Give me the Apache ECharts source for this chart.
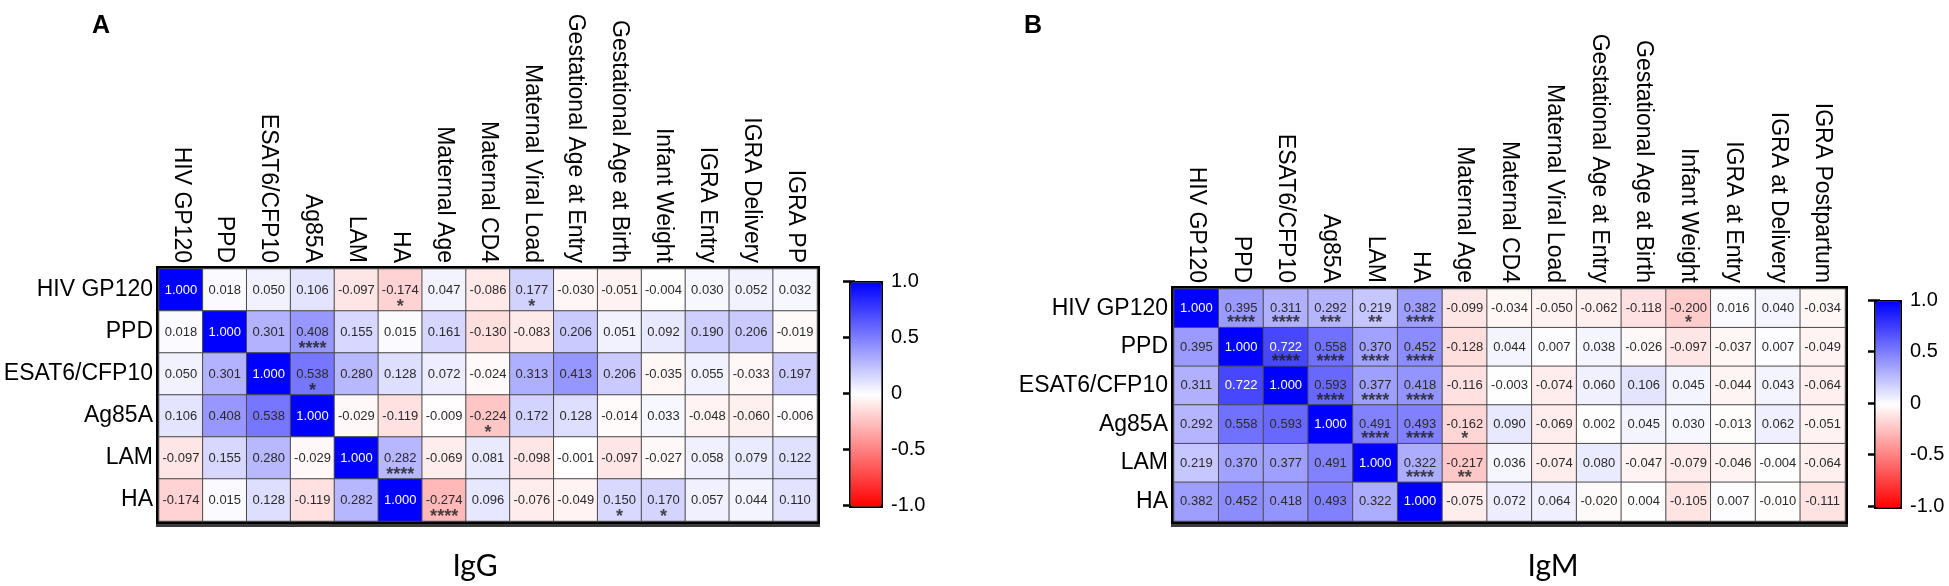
<!DOCTYPE html>
<html><head><meta charset="utf-8">
<script src="https://cdn.jsdelivr.net/npm/echarts/dist/echarts.min.js"></script>
<style>html,body{margin:0;padding:0;background:#fff}#c{width:1949px;height:586px}</style>
</head><body><div id="c"></div>
<script>
const rowsA = ['HIV GP120','PPD','ESAT6/CFP10','Ag85A','LAM','HA'];
const colsA = ['HIV GP120','PPD','ESAT6/CFP10','Ag85A','LAM','HA','Maternal Age','Maternal CD4','Maternal Viral Load','Gestational Age at Entry','Gestational Age at Birth','Infant Weight','IGRA Entry','IGRA Delivery','IGRA PP'];
const valuesA = [
  [1.000, 0.018, 0.050, 0.106, -0.097, -0.174, 0.047, -0.086, 0.177, -0.030, -0.051, -0.004, 0.030, 0.052, 0.032],
  [0.018, 1.000, 0.301, 0.408, 0.155, 0.015, 0.161, -0.130, -0.083, 0.206, 0.051, 0.092, 0.190, 0.206, -0.019],
  [0.050, 0.301, 1.000, 0.538, 0.280, 0.128, 0.072, -0.024, 0.313, 0.413, 0.206, -0.035, 0.055, -0.033, 0.197],
  [0.106, 0.408, 0.538, 1.000, -0.029, -0.119, -0.009, -0.224, 0.172, 0.128, -0.014, 0.033, -0.048, -0.060, -0.006],
  [-0.097, 0.155, 0.280, -0.029, 1.000, 0.282, -0.069, 0.081, -0.098, -0.001, -0.097, -0.027, 0.058, 0.079, 0.122],
  [-0.174, 0.015, 0.128, -0.119, 0.282, 1.000, -0.274, 0.096, -0.076, -0.049, 0.150, 0.170, 0.057, 0.044, 0.110]
];
const starsA = [[0,5,'*'],[0,8,'*'],[1,3,'****'],[2,3,'*'],[3,7,'*'],[4,5,'****'],[5,6,'****'],[5,10,'*'],[5,11,'*']];

const rowsB = ['HIV GP120','PPD','ESAT6/CFP10','Ag85A','LAM','HA'];
const colsB = ['HIV GP120','PPD','ESAT6/CFP10','Ag85A','LAM','HA','Maternal Age','Maternal CD4','Maternal Viral Load','Gestational Age at Entry','Gestational Age at Birth','Infant Weight','IGRA at Entry','IGRA at Delivery','IGRA Postpartum'];
const valuesB = [
  [1.000, 0.395, 0.311, 0.292, 0.219, 0.382, -0.099, -0.034, -0.050, -0.062, -0.118, -0.200, 0.016, 0.040, -0.034],
  [0.395, 1.000, 0.722, 0.558, 0.370, 0.452, -0.128, 0.044, 0.007, 0.038, -0.026, -0.097, -0.037, 0.007, -0.049],
  [0.311, 0.722, 1.000, 0.593, 0.377, 0.418, -0.116, -0.003, -0.074, 0.060, 0.106, 0.045, -0.044, 0.043, -0.064],
  [0.292, 0.558, 0.593, 1.000, 0.491, 0.493, -0.162, 0.090, -0.069, 0.002, 0.045, 0.030, -0.013, 0.062, -0.051],
  [0.219, 0.370, 0.377, 0.491, 1.000, 0.322, -0.217, 0.036, -0.074, 0.080, -0.047, -0.079, -0.046, -0.004, -0.064],
  [0.382, 0.452, 0.418, 0.493, 0.322, 1.000, -0.075, 0.072, 0.064, -0.020, 0.004, -0.105, 0.007, -0.010, -0.111]
];
const starsB = [[0,1,'****'],[0,2,'****'],[0,3,'***'],[0,4,'**'],[0,5,'****'],[0,11,'*'],
  [1,2,'****'],[1,3,'****'],[1,4,'****'],[1,5,'****'],
  [2,3,'****'],[2,4,'****'],[2,5,'****'],
  [3,4,'****'],[3,5,'****'],[3,6,'*'],
  [4,5,'****'],[4,6,'**']];
const colorbarTicks = [-1, -0.5, 0, 0.5, 1];

const FONT = "'Liberation Sans', Arial, sans-serif";

function cells(values) {
  const out = [];
  values.forEach((row, r) => row.forEach((v, c) => {
    out.push({ value: [c, r, v], label: { color: v >= 0.65 ? '#ffffff' : '#2a2a2a' } });
  }));
  return out;
}
function starData(stars) {
  return stars.map(s => [s[1], s[0], s[2]]);
}

const G = [
  { left: 159, top: 269, width: 658, height: 252 },
  { left: 1174, top: 289, width: 671, height: 232 }
];
const CB = [
  { left: 849, top: 281, width: 31, height: 224 },
  { left: 1874, top: 300, width: 25, height: 206 }
];

function gridStyle(g) {
  return Object.assign({ show: true, backgroundColor: '#fff', borderColor: '#000', borderWidth: 6,
    shadowColor: '#3c3c3c', shadowOffsetY: 3, shadowBlur: 0, containLabel: false }, g);
}

const option = {
  animation: false,
  backgroundColor: '#fff',
  textStyle: { fontFamily: FONT },
  title: [
    { text: 'A', left: 87, top: 9, textStyle: { fontSize: 25, fontWeight: 'bold', color: '#000', fontFamily: FONT } },
    { text: 'B', left: 1019, top: 9, textStyle: { fontSize: 25, fontWeight: 'bold', color: '#000', fontFamily: FONT } },
    { text: 'IgG', left: 470, top: 546, textAlign: 'center', textStyle: { fontSize: 30, fontWeight: 'normal', color: '#000', fontFamily: 'Lato, sans-serif' } },
    { text: 'IgM', left: 1548, top: 546, textAlign: 'center', textStyle: { fontSize: 30, fontWeight: 'normal', color: '#000', fontFamily: 'Lato, sans-serif' } }
  ],
  grid: [gridStyle(G[0]), gridStyle(G[1]),
    Object.assign({ show: false }, CB[0]), Object.assign({ show: false }, CB[1])],
  xAxis: [
    { type: 'category', gridIndex: 0, position: 'top', data: colsA, axisLine: { show: false }, axisTick: { show: false },
      splitLine: { show: false }, axisLabel: { rotate: 90, fontSize: 23, color: '#000', margin: 6, interval: 0, fontFamily: FONT } },
    { type: 'category', gridIndex: 1, position: 'top', data: colsB, axisLine: { show: false }, axisTick: { show: false },
      splitLine: { show: false }, axisLabel: { rotate: 90, fontSize: 23, color: '#000', margin: 6, interval: 0, fontFamily: FONT } },
    { type: 'value', gridIndex: 2, show: false, min: 0, max: 1 },
    { type: 'value', gridIndex: 3, show: false, min: 0, max: 1 }
  ],
  yAxis: [
    { type: 'category', gridIndex: 0, inverse: true, data: rowsA, axisLine: { show: false }, axisTick: { show: false },
      axisLabel: { fontSize: 23, color: '#000', margin: 6, fontFamily: FONT } },
    { type: 'category', gridIndex: 1, inverse: true, data: rowsB, axisLine: { show: false }, axisTick: { show: false },
      axisLabel: { fontSize: 23, color: '#000', margin: 6, fontFamily: FONT } }
  ],
  visualMap: [
    { type: 'continuous', seriesIndex: 0, min: -1, max: 1, calculable: false, hoverLink: false,
      inRange: { color: ['#ff0000', '#ffffff', '#0000ff'] },
      left: CB[0].left, top: CB[0].top, itemWidth: CB[0].width, itemHeight: CB[0].height,
      padding: 0, borderColor: '#000', borderWidth: 3, text: null, showLabel: false },
    { type: 'continuous', seriesIndex: 2, min: -1, max: 1, calculable: false, hoverLink: false,
      inRange: { color: ['#ff0000', '#ffffff', '#0000ff'] },
      left: CB[1].left, top: CB[1].top, itemWidth: CB[1].width, itemHeight: CB[1].height,
      padding: 0, borderColor: '#000', borderWidth: 3, text: null, showLabel: false }
  ],
  series: [
    { type: 'heatmap', xAxisIndex: 0, yAxisIndex: 0, data: cells(valuesA),
      itemStyle: { borderColor: '#4a4a4a', borderWidth: 1 },
      label: { show: true, fontSize: 13, fontFamily: FONT, formatter: p => p.value[2].toFixed(3) },
      emphasis: { disabled: true } },
    { type: 'scatter', xAxisIndex: 0, yAxisIndex: 0, data: starData(starsA), symbolSize: 1,
      itemStyle: { color: 'rgba(0,0,0,0)' }, z: 5,
      label: { show: true, position: 'inside', offset: [0, 17], fontSize: 18, fontWeight: 'bold', color: '#1a1a1a', fontFamily: FONT,
        formatter: p => p.data[2] }, emphasis: { disabled: true } },
    { type: 'heatmap', xAxisIndex: 1, yAxisIndex: 1, data: cells(valuesB),
      itemStyle: { borderColor: '#4a4a4a', borderWidth: 1 },
      label: { show: true, fontSize: 13, fontFamily: FONT, formatter: p => p.value[2].toFixed(3) },
      emphasis: { disabled: true } },
    { type: 'scatter', xAxisIndex: 1, yAxisIndex: 1, data: starData(starsB), symbolSize: 1,
      itemStyle: { color: 'rgba(0,0,0,0)' }, z: 5,
      label: { show: true, position: 'inside', offset: [0, 15], fontSize: 18, fontWeight: 'bold', color: '#1a1a1a', fontFamily: FONT,
        formatter: p => p.data[2] }, emphasis: { disabled: true } }
  ]
};

function cbAxes(gi) {
  const common = { type: 'value', gridIndex: gi, min: -1, max: 1, interval: 0.5,
    splitLine: { show: false }, axisLine: { show: false },
    axisTick: { show: true, inside: true, length: 6, lineStyle: { color: '#000', width: 2.5 } } };
  return [
    Object.assign({}, common, { position: 'right',
      axisLabel: { show: true, fontSize: 20, color: '#000', margin: 11, fontFamily: FONT,
        formatter: v => (colorbarTicks.indexOf(v) >= 0 ? (v === 0 ? '0' : v.toFixed(1)) : '') } }),
    Object.assign({}, common, { position: 'left', axisLabel: { show: false } })
  ];
}
option.yAxis.push(...cbAxes(2), ...cbAxes(3));

const chart = echarts.init(document.getElementById('c'), null, { renderer: 'canvas' });
chart.setOption(option);
</script>
</body></html>
